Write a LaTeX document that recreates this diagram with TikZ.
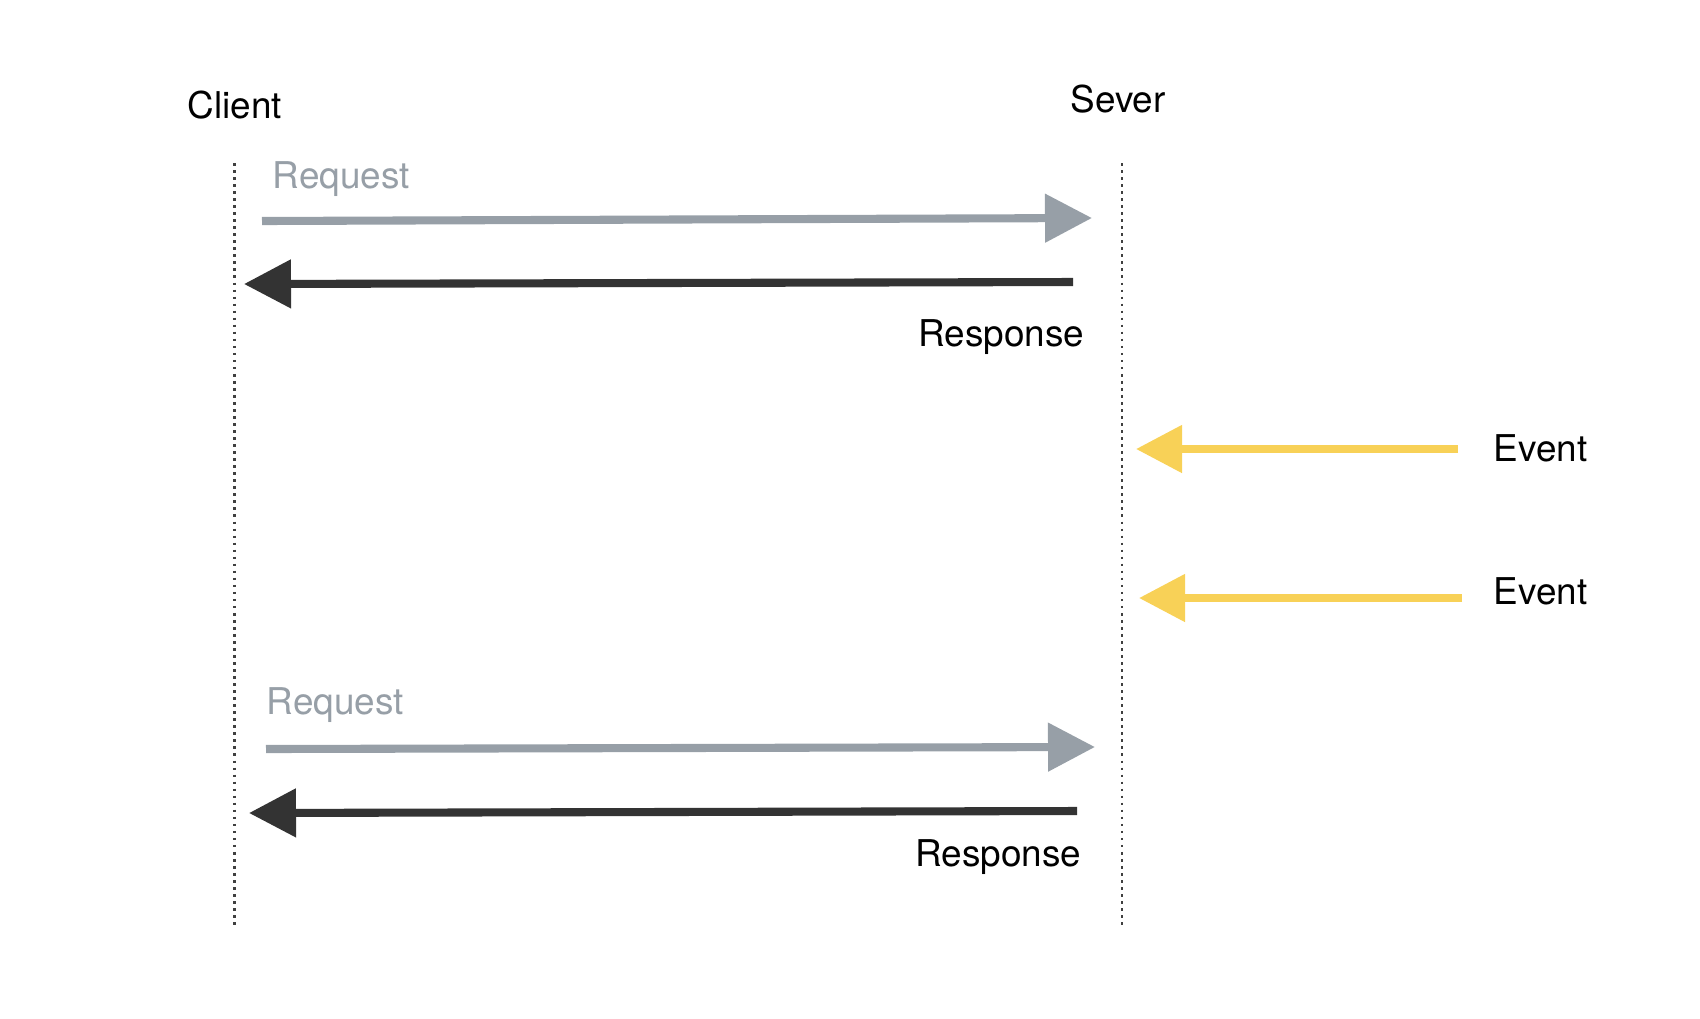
\documentclass[tikz,border=0pt]{standalone}
\usepackage{fontspec}
\setmainfont{TeX Gyre Heros}
\usepackage{xcolor}
\usepackage{tikz}
\usetikzlibrary{arrows.meta, positioning}
\definecolor{reqgray}{HTML}{979FA7}
\definecolor{resdark}{HTML}{333333}
\definecolor{evyellow}{HTML}{F8D157}

\begin{document}
\begin{tikzpicture}[
  lifeline/.style={black!75, line width=0.7pt, dash pattern=on 0.75pt off 1.25pt},
  msg/.style={line width=2.3pt, -{Triangle[length=0.47cm, width=0.47cm]}},
  evmsg/.style={evyellow, line width=2.3pt, -{Triangle[length=0.46cm, width=0.46cm]}},
  lbl/.style={inner sep=0pt, font=\fontsize{10.5}{12}\selectfont}
]
% Canvas
\useasboundingbox (0,0) rectangle (17,-10.18);
% Lifelines
\coordinate (cltop) at (2.343,-1.63);
\coordinate (clbot) at (2.343,-9.27);
\coordinate (svtop) at (11.22,-1.63);
\coordinate (svbot) at (11.22,-9.27);
\draw[lifeline] (cltop) -- (clbot);
\draw[lifeline] (svtop) -- (svbot);
% Heads
\node[lbl, anchor=base] (client) at (2.35,-1.18) {Client};
\node[lbl, anchor=base] (sever) at (11.18,-1.12) {Sever};
% First request and response
\coordinate (req1a) at (2.62,-2.21);
\coordinate (req1b) at (10.92,-2.18);
\draw[msg, reqgray] (req1a) -- (req1b);
\node[lbl, reqgray, anchor=base west] (req1) at (2.72,-1.88) {Request};
\coordinate (res1a) at (10.73,-2.82);
\coordinate (res1b) at (2.44,-2.84);
\draw[msg, resdark] (res1a) -- (res1b);
\node[lbl, anchor=base east] (res1) at (10.85,-3.46) {Response};
% Events
\coordinate (ev1a) at (14.58,-4.49);
\coordinate (ev1b) at (11.36,-4.49);
\draw[evmsg] (ev1a) -- (ev1b);
\node[lbl, anchor=base west] (ev1) at (14.93,-4.61) {Event};
\coordinate (ev2a) at (14.62,-5.98);
\coordinate (ev2b) at (11.39,-5.98);
\draw[evmsg] (ev2a) -- (ev2b);
\node[lbl, anchor=base west] (ev2) at (14.93,-6.04) {Event};
% Second request and response
\coordinate (req2a) at (2.66,-7.49);
\coordinate (req2b) at (10.95,-7.47);
\draw[msg, reqgray] (req2a) -- (req2b);
\node[lbl, reqgray, anchor=base west] (req2) at (2.66,-7.14) {Request};
\coordinate (res2a) at (10.77,-8.11);
\coordinate (res2b) at (2.49,-8.13);
\draw[msg, resdark] (res2a) -- (res2b);
\node[lbl, anchor=base east] (res2) at (10.82,-8.66) {Response};
\end{tikzpicture}
\end{document}
